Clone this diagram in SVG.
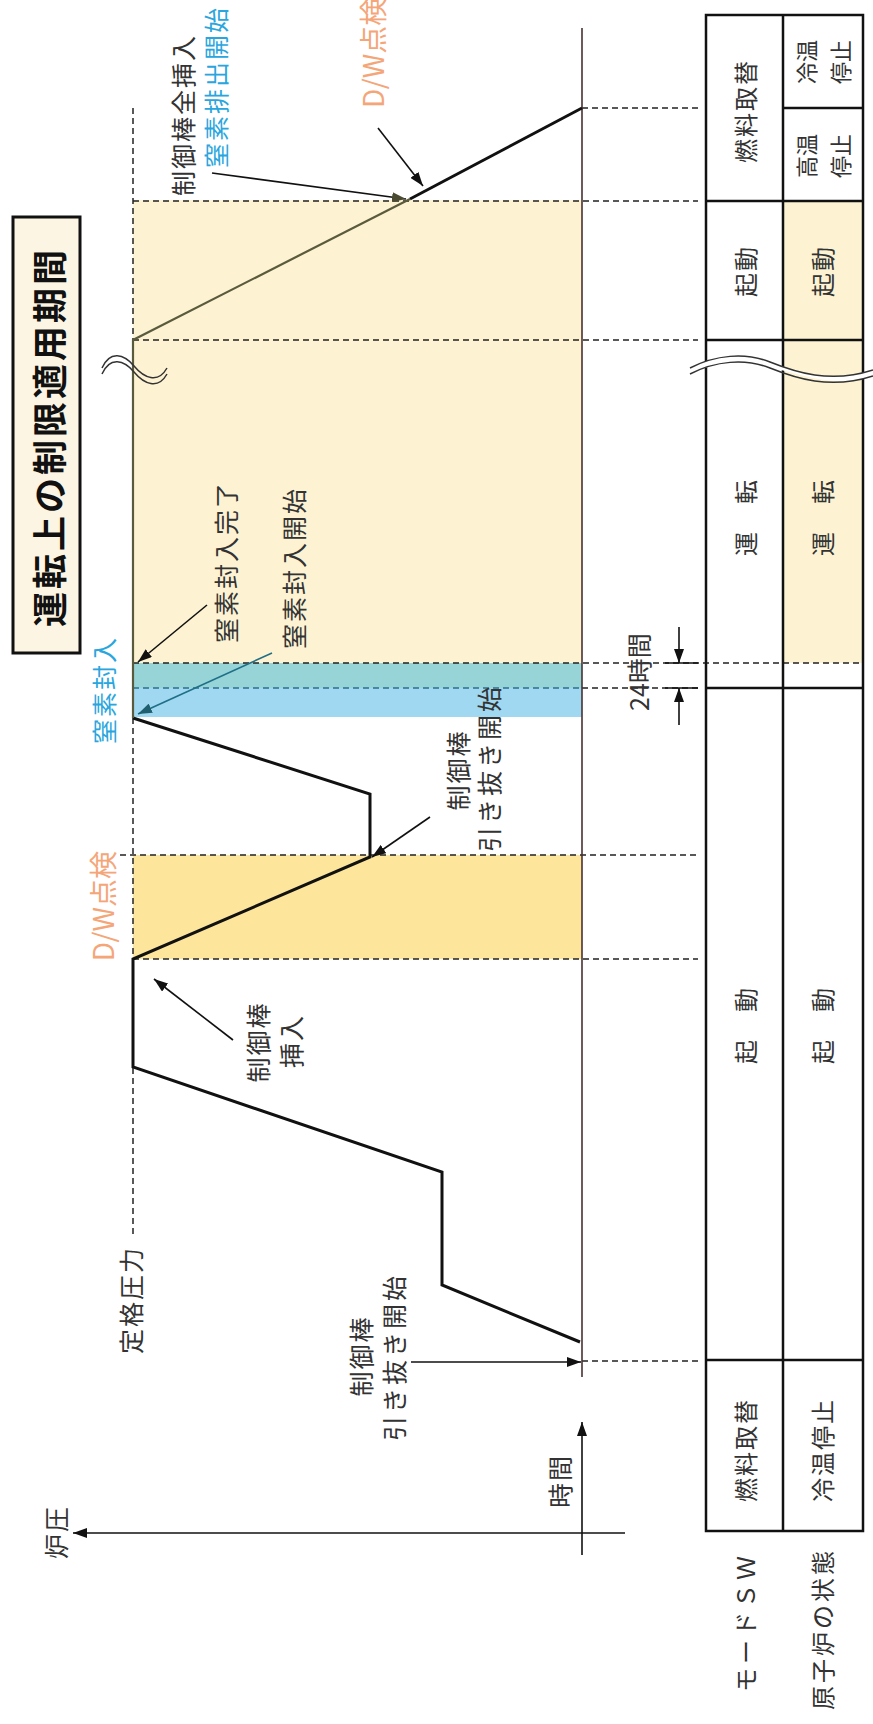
<svg xmlns="http://www.w3.org/2000/svg" width="873" height="1724" viewBox="0 0 873 1724">
<style>
text{font-family:"Noto Sans CJK JP","Noto Sans",sans-serif;fill:#333;}
.t{font-size:25px;letter-spacing:2px;}
.tb{font-size:24px;letter-spacing:2px;}
.ts{font-size:22px;}
.blue{fill:#2aa6de;}
.orange{fill:#f5a678;font-size:28px;}
.dash{stroke:#222;stroke-width:1.5;stroke-dasharray:6 4;fill:none;}
.ln{stroke:#111;stroke-width:1.6;fill:none;}
.cell{stroke:#111;stroke-width:2.5;fill:none;}
.wave{stroke:#333;stroke-width:1.5;fill:none;}
</style>
<defs>
<marker id="ah" viewBox="0 0 14 10" refX="14" refY="5" markerWidth="14" markerHeight="10" markerUnits="userSpaceOnUse" orient="auto">
<path d="M0,0 L14,5 L0,10 Z" fill="#111"/>
</marker>
<marker id="aht" viewBox="0 0 14 10" refX="14" refY="5" markerWidth="14" markerHeight="10" markerUnits="userSpaceOnUse" orient="auto">
<path d="M0,0 L14,5 L0,10 Z" fill="#1f5f6f"/>
</marker>
<marker id="aho" viewBox="0 0 14 10" refX="14" refY="5" markerWidth="14" markerHeight="10" markerUnits="userSpaceOnUse" orient="auto">
<path d="M0,0 L14,5 L0,10 Z" fill="#4a4a30"/>
</marker>
</defs>
<rect width="873" height="1724" fill="#fff"/>

<g id="bands">
<rect x="133" y="200" width="449" height="463" fill="#fdf3d3"/>
<rect x="133" y="663" width="449" height="25" fill="#97d4d8"/>
<rect x="133" y="688" width="449" height="29" fill="#9fd8f0"/>
<rect x="133" y="855" width="449" height="104" fill="#fde59c"/>
<rect x="783" y="201" width="80" height="462" fill="#fdf3d3"/>
</g>

<g id="title">
<rect x="13" y="217" width="67" height="436" fill="#fdf5e3" stroke="#111" stroke-width="3"/>
<text x="47" y="437" transform="rotate(-90 47 437)" text-anchor="middle" dominant-baseline="central" style="font-size:35px;font-weight:bold;letter-spacing:3px;fill:#111">運転上の制限適用期間</text>
</g>

<g id="guides">
<line class="dash" x1="133" y1="108" x2="133" y2="1238"/>
<line class="dash" x1="582" y1="108" x2="698" y2="108"/>
<line class="dash" x1="133" y1="201" x2="698" y2="201"/>
<line class="dash" x1="133" y1="340" x2="698" y2="340"/>
<line class="dash" x1="133" y1="663" x2="863" y2="663"/>
<line class="dash" x1="133" y1="688" x2="582" y2="688" style="stroke:#2b6f8f"/>
<line class="dash" x1="582" y1="688" x2="698" y2="688"/>
<line class="dash" x1="120" y1="855" x2="698" y2="855"/>
<line class="dash" x1="133" y1="959" x2="698" y2="959"/>
<line class="dash" x1="582" y1="1361" x2="698" y2="1361"/>
</g>

<g id="axes">
<line x1="582" y1="28" x2="582" y2="1377" stroke="#4a3030" stroke-width="1.6"/>
<line class="ln" x1="582" y1="1555" x2="582" y2="1422" marker-end="url(#ah)"/>
<line class="ln" x1="625" y1="1533" x2="73" y2="1533" marker-end="url(#ah)"/>
<text class="t" x="55" y="1532" transform="rotate(-90 55 1532)" text-anchor="middle" dominant-baseline="central">炉圧</text>
<text class="t" x="559" y="1481" transform="rotate(-90 559 1481)" text-anchor="middle" dominant-baseline="central">時間</text>
</g>

<g id="pressure-curve">
<polyline points="580,1342 442,1285 442,1172 133,1067 133,959 370,857 370,794 133,718" fill="none" stroke="#111" stroke-width="3" stroke-linejoin="miter"/>
<polyline points="133,718 133,340 410,199" fill="none" stroke="#5a5a3c" stroke-width="2.2"/>
<line x1="410" y1="199" x2="582" y2="108" stroke="#111" stroke-width="3"/>
<path class="wave" d="M102,368 C110,350 124,354 134,366 S158,384 167,368"/>
<path class="wave" d="M102,374 C110,356 124,360 134,372 S158,390 167,374"/>
</g>

<g id="connectors">
<line class="ln" x1="212" y1="173" x2="406" y2="199" marker-end="url(#aho)"/>
<line class="ln" x1="378" y1="128" x2="423" y2="186" marker-end="url(#ah)"/>
<line class="ln" x1="207" y1="605" x2="138" y2="662" marker-end="url(#ah)"/>
<line x1="272" y1="653" x2="138" y2="714" stroke="#1f6f86" stroke-width="1.6" marker-end="url(#aht)"/>
<line class="ln" x1="430" y1="817" x2="372" y2="857" marker-end="url(#ah)"/>
<line class="ln" x1="233" y1="1040" x2="154" y2="979" marker-end="url(#ah)"/>
<line class="ln" x1="411" y1="1362" x2="581" y2="1362" marker-end="url(#ah)"/>
<line class="ln" x1="679" y1="627" x2="679" y2="663" marker-end="url(#ah)"/>
<line class="ln" x1="679" y1="725" x2="679" y2="688" marker-end="url(#ah)"/>
<line class="ln" x1="665" y1="663" x2="698" y2="663"/>
<line class="ln" x1="665" y1="688" x2="698" y2="688"/>
</g>

<g id="labels">
<text class="t" x="182" y="115" transform="rotate(-90 182 115)" text-anchor="middle" dominant-baseline="central">制御棒全挿入</text>
<text class="t blue" x="215" y="87" transform="rotate(-90 215 87)" text-anchor="middle" dominant-baseline="central">窒素排出開始</text>
<text class="orange" x="372" y="108" transform="rotate(-90 372 108)" text-anchor="start" dominant-baseline="central">D/W点検</text>
<text class="t" x="225" y="562" transform="rotate(-90 225 562)" text-anchor="middle" dominant-baseline="central">窒素封入完了</text>
<text class="t" x="293" y="568" transform="rotate(-90 293 568)" text-anchor="middle" dominant-baseline="central">窒素封入開始</text>
<text class="t blue" x="103" y="690" transform="rotate(-90 103 690)" text-anchor="middle" dominant-baseline="central">窒素封入</text>
<text class="t" x="457" y="770" transform="rotate(-90 457 770)" text-anchor="middle" dominant-baseline="central">制御棒</text>
<text class="t" x="488" y="768" transform="rotate(-90 488 768)" text-anchor="middle" dominant-baseline="central" style="letter-spacing:3px">引き抜き開始</text>
<text class="orange" x="102" y="906" transform="rotate(-90 102 906)" text-anchor="middle" dominant-baseline="central">D/W点検</text>
<text class="t" x="257" y="1042" transform="rotate(-90 257 1042)" text-anchor="middle" dominant-baseline="central">制御棒</text>
<text class="t" x="290" y="1041" transform="rotate(-90 290 1041)" text-anchor="middle" dominant-baseline="central">挿入</text>
<text class="t" x="130" y="1300" transform="rotate(-90 130 1300)" text-anchor="middle" dominant-baseline="central">定格圧力</text>
<text class="t" x="360" y="1356" transform="rotate(-90 360 1356)" text-anchor="middle" dominant-baseline="central">制御棒</text>
<text class="t" x="393" y="1357" transform="rotate(-90 393 1357)" text-anchor="middle" dominant-baseline="central" style="letter-spacing:3px">引き抜き開始</text>
<text class="t" x="638" y="672" transform="rotate(-90 638 672)" text-anchor="middle" dominant-baseline="central" style="letter-spacing:0">24時間</text>
</g>

<g id="table">
<rect class="cell" x="706" y="15" width="157" height="1516"/>
<line class="cell" x1="783" y1="15" x2="783" y2="1531"/>
<line class="cell" x1="783" y1="108" x2="863" y2="108"/>
<line class="cell" x1="706" y1="201" x2="863" y2="201"/>
<line class="cell" x1="706" y1="340" x2="863" y2="340"/>
<line class="cell" x1="706" y1="688" x2="863" y2="688"/>
<line class="cell" x1="706" y1="1360" x2="863" y2="1360"/>
<path d="M690,368 C715,355 745,352 770,362 S830,384 873,370 L873,376 C830,390 800,372 770,368 S715,361 690,374 Z" fill="#fff" stroke="none"/>
<path class="wave" d="M690,368 C715,355 745,352 770,362 S830,384 873,370"/>
<path class="wave" d="M690,374 C715,361 745,358 770,368 S830,390 873,376"/>
</g>

<g id="table-text">
<text class="tb" x="744" y="111" transform="rotate(-90 744 111)" text-anchor="middle" dominant-baseline="central">燃料取替</text>
<text class="ts" x="805" y="62" transform="rotate(-90 805 62)" text-anchor="middle" dominant-baseline="central">冷温</text>
<text class="ts" x="839" y="62" transform="rotate(-90 839 62)" text-anchor="middle" dominant-baseline="central">停止</text>
<text class="ts" x="805" y="156" transform="rotate(-90 805 156)" text-anchor="middle" dominant-baseline="central">高温</text>
<text class="ts" x="839" y="156" transform="rotate(-90 839 156)" text-anchor="middle" dominant-baseline="central">停止</text>
<text class="tb" x="744" y="271" transform="rotate(-90 744 271)" text-anchor="middle" dominant-baseline="central">起動</text>
<text class="tb" x="821" y="271" transform="rotate(-90 821 271)" text-anchor="middle" dominant-baseline="central">起動</text>
<text class="tb" x="744" y="517" transform="rotate(-90 744 517)" text-anchor="middle" dominant-baseline="central">運　転</text>
<text class="tb" x="821" y="517" transform="rotate(-90 821 517)" text-anchor="middle" dominant-baseline="central">運　転</text>
<text class="tb" x="744" y="1025" transform="rotate(-90 744 1025)" text-anchor="middle" dominant-baseline="central">起　動</text>
<text class="tb" x="821" y="1025" transform="rotate(-90 821 1025)" text-anchor="middle" dominant-baseline="central">起　動</text>
<text class="tb" x="744" y="1450" transform="rotate(-90 744 1450)" text-anchor="middle" dominant-baseline="central">燃料取替</text>
<text class="tb" x="821" y="1450" transform="rotate(-90 821 1450)" text-anchor="middle" dominant-baseline="central">冷温停止</text>
<text class="tb" x="744" y="1622" transform="rotate(-90 744 1622)" text-anchor="middle" dominant-baseline="central" style="letter-spacing:4px">モードＳＷ</text>
<text class="tb" x="821" y="1629" transform="rotate(-90 821 1629)" text-anchor="middle" dominant-baseline="central" style="letter-spacing:3px">原子炉の状態</text>
</g>
</svg>
